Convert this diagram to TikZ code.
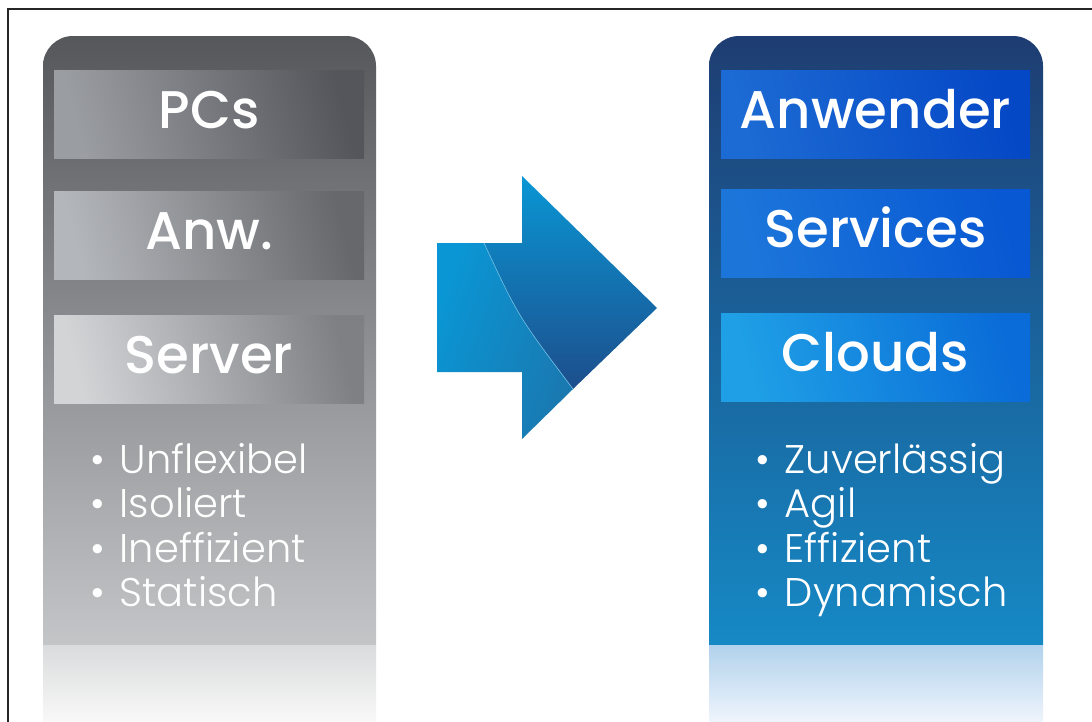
\documentclass[tikz,border=0pt]{standalone}
\usepackage{fontspec}
\setmainfont{Poppins}
\newfontfamily\headfont{Poppins Medium}
\newfontfamily\listfont{Poppins Light}
\definecolor{graytop}{HTML}{56575B}
\definecolor{graybot}{HTML}{C4C5C7}
\definecolor{grayfadetop}{HTML}{DADBDC}
\definecolor{grayfadebot}{HTML}{F8F8F8}
\definecolor{pcsleft}{HTML}{9A9DA2}
\definecolor{pcsright}{HTML}{55565B}
\definecolor{anwleft}{HTML}{B3B6BA}
\definecolor{anwright}{HTML}{66686C}
\definecolor{serverleft}{HTML}{D2D4D6}
\definecolor{serverright}{HTML}{7E8084}
\definecolor{bluetop}{HTML}{1E3D72}
\definecolor{bluebot}{HTML}{1689C5}
\definecolor{bluefadetop}{HTML}{B2D2EC}
\definecolor{bluefadebot}{HTML}{EEF4FC}
\definecolor{anwenderleft}{HTML}{1C6AD3}
\definecolor{anwenderright}{HTML}{0548C6}
\definecolor{servicesleft}{HTML}{1C76DA}
\definecolor{servicesright}{HTML}{0858D3}
\definecolor{cloudsleft}{HTML}{1FA0E6}
\definecolor{cloudsright}{HTML}{0A6CD8}
\definecolor{arrowlight}{HTML}{0A96D4}
\definecolor{arrowmid}{HTML}{1A78B0}
\definecolor{arrowshade}{HTML}{1288C6}
\definecolor{arrowdark}{HTML}{1D4E8C}
\begin{document}
\begin{tikzpicture}[x=1pt,y=-1pt,
  layerbox/.style={minimum width=310pt,minimum height=88pt,inner sep=0pt,
    text height=58pt,text depth=30pt,text=white,
    font=\headfont\fontsize{53}{60}\selectfont},
  pointtext/.style={anchor=base west,inner sep=0pt,text=white,
    font=\listfont\fontsize{40}{44}\selectfont}]
\clip (0,0) rectangle (1092,721);
\fill[white] (0,0) rectangle (1092,721);
\draw[line width=1.5pt,black!85] (8,730) -- (8,9) -- (1100,9);
% old world column
\shade[top color=graytop,bottom color=graybot] (43,645) [rounded corners=30pt] -- (43,36) -- (376,36) [sharp corners] -- (376,645) -- cycle;
\shade[top color=grayfadetop,bottom color=grayfadebot] (43,645) rectangle (376,721);
\node[layerbox,left color=pcsleft,right color=pcsright,shading angle=105] (pcs) at (209,114) {PCs};
\node[layerbox,left color=anwleft,right color=anwright,shading angle=105] (anw) at (209,235) {Anw.};
\node[layerbox,left color=serverleft,right color=serverright,shading angle=105] (server) at (209,359) {Server};
\node[pointtext] (unflex) at (90,473) {•\hspace{4pt} Unflexibel};
\node[pointtext] (isol) at (90,517) {•\hspace{4pt} Isoliert};
\node[pointtext] (ineff) at (90,562) {•\hspace{4pt} Ineffizient};
\node[pointtext] (stat) at (90,606) {•\hspace{4pt} Statisch};
% new world column
\shade[top color=bluetop,bottom color=bluebot] (709,645) [rounded corners=30pt] -- (709,36) -- (1043,36) [sharp corners] -- (1043,645) -- cycle;
\shade[top color=bluefadetop,bottom color=bluefadebot] (709,645) rectangle (1043,721);
\node[layerbox,minimum width=309pt,left color=anwenderleft,right color=anwenderright,shading angle=105] (anwender) at (875.5,114) {Anwender};
\node[layerbox,minimum width=309pt,left color=servicesleft,right color=servicesright,shading angle=105] (services) at (875.5,233) {Services};
\node[layerbox,minimum width=309pt,left color=cloudsleft,right color=cloudsright,shading angle=105] (clouds) at (875.5,357) {Clouds};
\node[pointtext] (zuver) at (755,473) {•\hspace{4pt} Zuverlässig};
\node[pointtext] (agil) at (755,517) {•\hspace{4pt} Agil};
\node[pointtext] (effiz) at (755,562) {•\hspace{4pt} Effizient};
\node[pointtext] (dynam) at (755,606) {•\hspace{4pt} Dynamisch};
% arrow in two pieces
\shade[left color=arrowlight,right color=arrowmid,shading angle=70] (437,243) -- (484,243) .. controls (518,316) .. (573,389) -- (522,439) -- (522,372) -- (437,372) -- cycle;
\shade[top color=arrowlight,middle color=arrowshade,bottom color=arrowdark] (484,243) -- (522,243) -- (522,176) -- (657,308) -- (573,389) .. controls (518,316) .. (484,243) -- cycle;
\draw[line width=0.6pt,arrowlight!60!white] (484,243) .. controls (518,316) .. (573,389);
\end{tikzpicture}
\end{document}
